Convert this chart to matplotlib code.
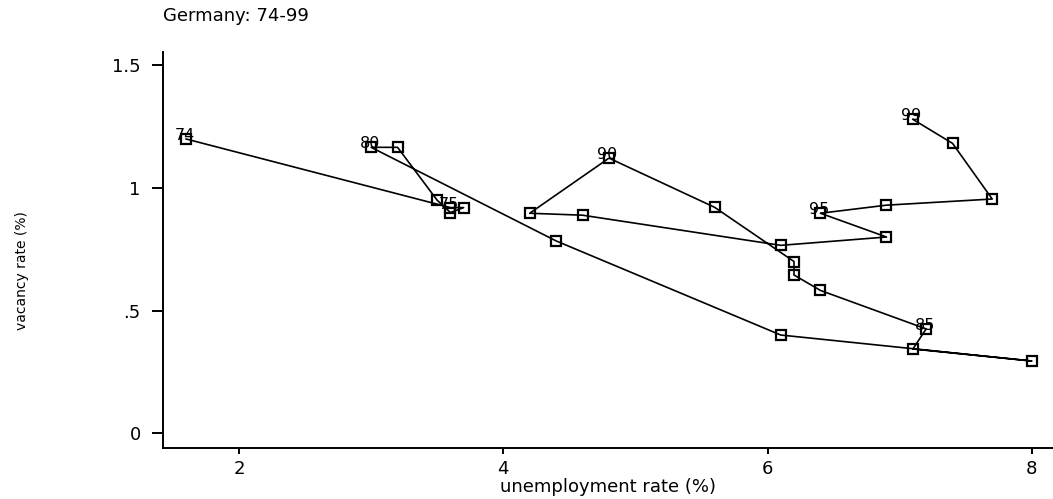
import matplotlib
matplotlib.use("Agg")
import matplotlib.pyplot as plt

# Germany 1974-1999: unemployment rate vs vacancy rate (Beveridge curve)
years = list(range(74, 100))
unemp = [1.6, 3.6, 3.7, 3.6, 3.5, 3.2, 3.0, 4.4, 6.1, 8.0, 7.1, 7.2, 6.4,
         6.2, 6.2, 5.6, 4.8, 4.2, 4.6, 6.1, 6.9, 6.4, 6.9, 7.7, 7.4, 7.1]
vacancy = [1.20, 0.92, 0.92, 0.90, 0.95, 1.166, 1.166, 0.784, 0.40, 0.294,
           0.343, 0.425, 0.582, 0.645, 0.70, 0.921, 1.122, 0.897, 0.889,
           0.766, 0.80, 0.897, 0.93, 0.955, 1.182, 1.28]
labelled = [74, 75, 80, 85, 90, 95, 99]

xticks = [2, 4, 6, 8]
yticks = [0, 0.5, 1, 1.5]
ytick_labels = ["0", ".5", "1", "1.5"]

plt.rcParams['font.family'] = ['DejaVu Sans']

fig = plt.figure(figsize=(10.53, 4.99), dpi=100)
ax = fig.add_axes([163/1053, 51/499, 1 - 163/1053, 396/499])

ax.plot(unemp, vacancy, color='black', lw=1.2, marker='s', ms=6.5,
        mfc='none', mec='black', mew=1.6)

for yr, x, y in zip(years, unemp, vacancy):
    if yr in labelled:
        ax.annotate(str(yr), (x, y), xytext=(-1, 2.5), textcoords='offset points',
                    ha='center', va='center', fontsize=11.5, color='black')

ax.set_xlim(1.425, 8.16)
ax.set_ylim(-0.061, 1.555)
ax.set_xticks(xticks)
ax.set_xticklabels([str(t) for t in xticks])
ax.set_yticks(yticks)
ax.set_yticklabels(ytick_labels)

for side in ['top', 'right']:
    ax.spines[side].set_visible(False)
for side in ['left', 'bottom']:
    ax.spines[side].set_linewidth(1.4)

ax.tick_params(axis='x', direction='out', length=4.5, width=1.4, pad=4, labelsize=13)
ax.tick_params(axis='y', direction='out', length=8, width=1.4, pad=8, labelsize=13)

ax.set_xlabel("unemployment rate (%)", fontsize=13, labelpad=0)
ax.set_ylabel("vacancy rate (%)", fontsize=10)
ax.yaxis.set_label_coords((29 - 163) / (1053 - 163), 0.447)

fig.text(163/1053, 1 - 21/499, "Germany: 74-99", fontsize=13, va='baseline', ha='left')

fig.savefig("out.png", dpi=100)
